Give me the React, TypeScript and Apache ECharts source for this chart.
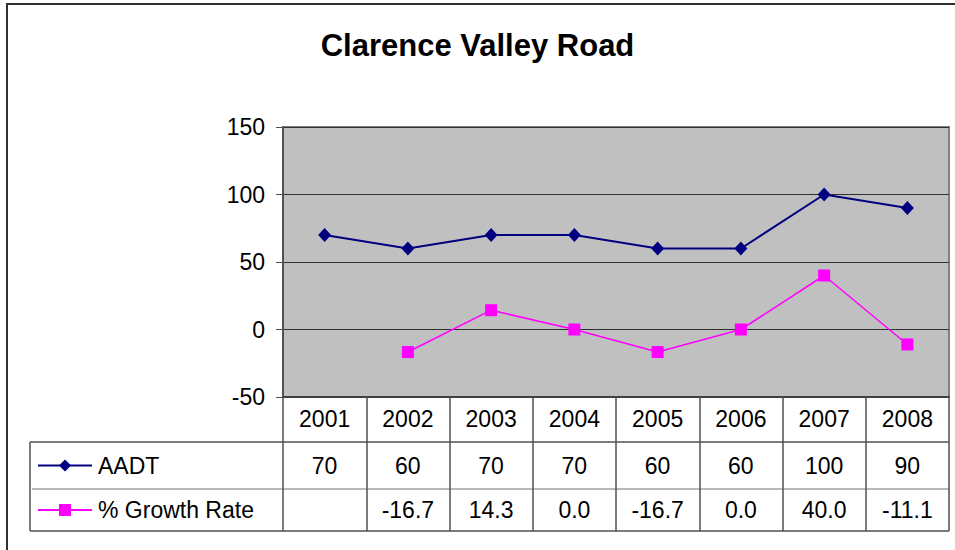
import React, { useEffect, useRef } from "react";
import * as echarts from "echarts";

const TITLE = "Clarence Valley Road";
const years = ["2001", "2002", "2003", "2004", "2005", "2006", "2007", "2008"];
const aadt = [70, 60, 70, 70, 60, 60, 100, 90];
const growth: (number | null)[] = [null, -16.7, 14.3, 0.0, -16.7, 0.0, 40.0, -11.1];
const aadtLabels = aadt.map((v) => String(v));
const growthLabels = growth.map((v) => (v == null ? "" : v.toFixed(1)));
const seriesNames = ["AADT", "% Growth Rate"];
const Y_MIN = -50;
const Y_MAX = 150;
const Y_STEP = 50;

const FONT = "'Liberation Sans', Arial, sans-serif";
const NAVY = "#000080";
const MAGENTA = "#FF00FF";

export default function App() {
  const ref = useRef<HTMLDivElement>(null);
  useEffect(() => {
    if (!ref.current) return;
    const chart = echarts.init(ref.current, null, { renderer: "svg" });
    const gridLeft = 283;
    const gridTop = 127;
    const gridRight = 6;
    const gridBottom = 153;
    const W = 955;
    const H = 550;
    const plotRight = W - gridRight;
    const plotBottom = H - gridBottom;
    const row1 = 442;
    const row2 = 489;
    const row3 = 531;
    const tableLeft = 30;

    chart.setOption({
      animation: false,
      backgroundColor: "#ffffff",
      title: {
        text: TITLE,
        left: "center",
        top: 25,
        textStyle: { fontFamily: FONT, fontSize: 31, fontWeight: "bold", color: "#000" },
      },
      grid: {
        left: gridLeft,
        top: gridTop,
        right: gridRight,
        bottom: gridBottom,
        show: true,
        backgroundColor: "#C0C0C0",
        borderColor: "#808080",
        borderWidth: 2,
      },
      xAxis: {
        type: "category",
        data: years,
        boundaryGap: true,
        axisLine: { show: true, onZero: false, lineStyle: { color: "#404040", width: 2 } },
        axisTick: {
          show: true,
          interval: 0,
          length: row3 - plotBottom,
          lineStyle: { color: "#505050", width: 1.5 },
        },
        axisLabel: { show: false },
        splitLine: { show: false },
      },
      yAxis: {
        type: "value",
        min: Y_MIN,
        max: Y_MAX,
        interval: Y_STEP,
        axisLine: { show: true, lineStyle: { color: "#505050", width: 2 } },
        axisTick: { show: true, length: 7, lineStyle: { color: "#505050" } },
        axisLabel: { fontFamily: FONT, fontSize: 23, color: "#000", margin: 18 },
        splitLine: { show: true, lineStyle: { color: "#303030", width: 1 } },
      },
      series: [
        {
          name: seriesNames[0],
          type: "line",
          data: aadt,
          symbol: "diamond",
          symbolSize: [13, 14],
          itemStyle: { color: NAVY },
          lineStyle: { color: NAVY, width: 2 },
        },
        {
          name: seriesNames[1],
          type: "line",
          data: growth,
          symbol: "rect",
          symbolSize: 12,
          connectNulls: false,
          itemStyle: { color: MAGENTA },
          lineStyle: { color: MAGENTA, width: 1.5 },
        },
      ],
    });

    const centers = years.map((_, i) => chart.convertToPixel({ xAxisIndex: 0 }, i) as number);
    const textStyle = (s: string, x: number, y: number) => ({
      type: "text",
      x,
      y,
      style: {
        text: s,
        fontFamily: FONT,
        fontSize: 23,
        fill: "#000",
        align: "center",
        verticalAlign: "middle",
      },
      silent: true,
    });
    const graphics: any[] = [];
    // outer border
    graphics.push({
      type: "rect",
      shape: { x: 7, y: 4, width: 1100, height: 700 },
      style: { fill: "none", stroke: "#303030", lineWidth: 2 },
      silent: true,
    });
    // table horizontal lines
    [row1, row2, row3].forEach((y, k) => {
      graphics.push({
        type: "line",
        shape: { x1: k === 1 ? tableLeft + 2 : tableLeft, y1: y, x2: plotRight, y2: y },
        style: { stroke: k === 1 ? "#707070" : "#505050", lineWidth: k === 1 ? 1 : 1.5 },
        silent: true,
      });
    });
    graphics.push({
      type: "line",
      shape: { x1: tableLeft, y1: row1, x2: tableLeft, y2: row3 },
      style: { stroke: "#505050", lineWidth: 1.5 },
      silent: true,
    });
    const yHead = (plotBottom + row1) / 2 - 1;
    const yR1 = (row1 + row2) / 2;
    const yR2 = (row2 + row3) / 2;
    centers.forEach((cx, i) => {
      graphics.push(textStyle(years[i], cx, yHead));
      graphics.push(textStyle(aadtLabels[i], cx, yR1));
      if (growthLabels[i]) graphics.push(textStyle(growthLabels[i], cx, yR2));
    });
    // legend keys
    const keyX1 = 38;
    const keyX2 = 92;
    const keyMid = 65;
    graphics.push({
      type: "line",
      shape: { x1: keyX1, y1: yR1, x2: keyX2, y2: yR1 },
      style: { stroke: NAVY, lineWidth: 2 },
      silent: true,
    });
    graphics.push({
      type: "polygon",
      shape: {
        points: [
          [keyMid, yR1 - 6],
          [keyMid + 6, yR1],
          [keyMid, yR1 + 6],
          [keyMid - 6, yR1],
        ],
      },
      style: { fill: NAVY },
      silent: true,
    });
    graphics.push({
      type: "line",
      shape: { x1: keyX1, y1: yR2, x2: keyX2, y2: yR2 },
      style: { stroke: MAGENTA, lineWidth: 2 },
      silent: true,
    });
    graphics.push({
      type: "rect",
      shape: { x: keyMid - 6, y: yR2 - 6, width: 12, height: 12 },
      style: { fill: MAGENTA },
      silent: true,
    });
    [seriesNames[0], seriesNames[1]].forEach((n, k) => {
      graphics.push({
        type: "text",
        x: 98,
        y: k === 0 ? yR1 : yR2,
        style: {
          text: n,
          fontFamily: FONT,
          fontSize: 23,
          fill: "#000",
          align: "left",
          verticalAlign: "middle",
        },
        silent: true,
      });
    });
    chart.setOption({ graphic: graphics });

    return () => chart.dispose();
  }, []);
  return (
    <div
      ref={ref}
      style={{ position: "absolute", left: 0, top: 0, width: 955, height: 550 }}
    />
  );
}
